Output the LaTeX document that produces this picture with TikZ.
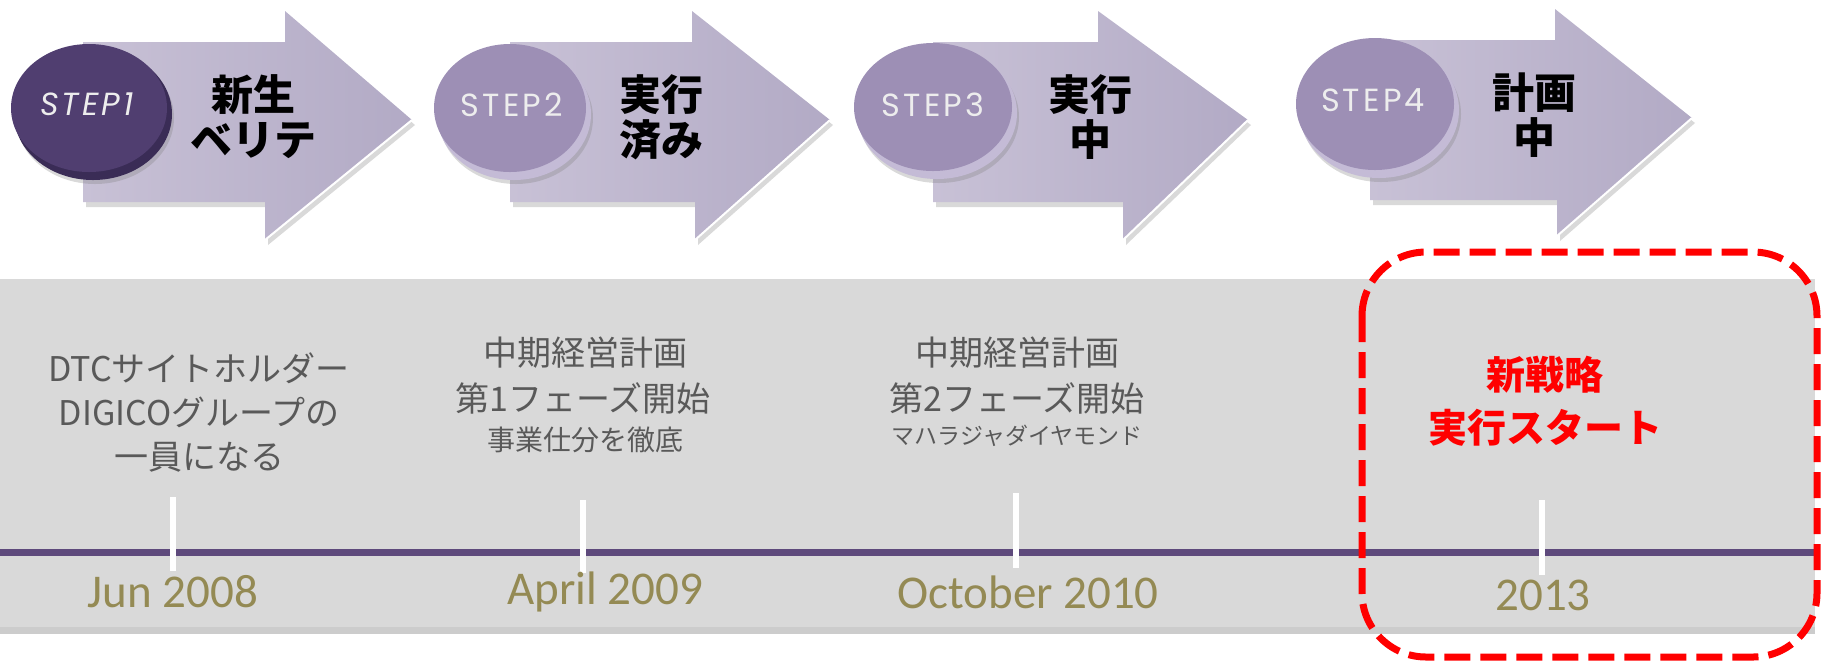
\documentclass[tikz,border=0pt]{standalone}
\usepackage{fontspec}
\newfontfamily\jpfont{Noto Sans CJK JP}
\newfontfamily\stepfont{Poppins}[LetterSpace=10]
\newfontfamily\datefont{Carlito}
\usepackage{tikz}
\usetikzlibrary{shadows}
\definecolor{bandgray}{RGB}{217,217,217}
\definecolor{lineplum}{RGB}{94,74,124}
\definecolor{dateolive}{RGB}{148,138,84}
\definecolor{evtgray}{RGB}{89,89,89}
\definecolor{arrowlight}{RGB}{200,193,214}
\definecolor{arrowdark}{RGB}{178,170,197}
\definecolor{stepdark}{RGB}{80,62,112}
\definecolor{steprimdark}{RGB}{58,44,86}
\definecolor{steplight}{RGB}{157,143,181}
\definecolor{steprimlight}{RGB}{196,187,214}

\begin{document}
\begin{tikzpicture}[x=0.5pt,y=0.5pt,yscale=-1,xscale=1,
  arrowshape/.style={left color=arrowlight,right color=arrowdark,draw=none,
    drop shadow={opacity=0.3,shadow xshift=1.5pt,shadow yshift=-2.5pt}},
  arrowedge/.style={white,line width=1pt},
  steptext/.style={font=\stepfont\fontsize{16pt}{18pt}\selectfont,text=white!93!black,inner sep=0pt},
  arrowtext/.style={font=\jpfont\bfseries\fontsize{21pt}{22.5pt}\selectfont,text=black,align=center,inner sep=0pt},
  evttext/.style={font=\jpfont\fontsize{17pt}{22pt}\selectfont,text=evtgray,align=center,inner sep=0pt},
  evtsmall/.style={font=\jpfont\fontsize{14pt}{16pt}\selectfont,text=evtgray,inner sep=0pt},
  evttiny/.style={font=\jpfont\fontsize{11.5pt}{14pt}\selectfont,text=evtgray,inner sep=0pt},
  redtext/.style={font=\jpfont\bfseries\fontsize{19.5pt}{26.5pt}\selectfont,text=red,align=center,inner sep=0pt},
  datetext/.style={font=\datefont\fontsize{23.5pt}{28pt}\selectfont,text=dateolive,inner sep=0pt},
  tickmark/.style={white,line width=3pt}]
\useasboundingbox (0,0) rectangle (1821,661);

%Shape: Band
\fill [bandgray,drop shadow={opacity=0.4,shadow xshift=0pt,shadow yshift=-3.5pt}] (0,279) rectangle (1815,627);
%Straight Lines: time line
\draw [lineplum,line width=3.5pt] (0,552) -- (1815,552);

%Shape: Arrow 1
\draw [arrowshape] (83,42) -- (285,42) -- (285,11) -- (412,120) -- (265,240) -- (265,202) -- (83,202) -- cycle;
\draw [arrowedge] (412,120) -- (265,240);
%Shape: Arrow 2
\draw [arrowshape] (510,42) -- (692,42) -- (692,11) -- (830,120) -- (695,240) -- (695,202) -- (510,202) -- cycle;
\draw [arrowedge] (830,120) -- (695,240);
%Shape: Arrow 3
\draw [arrowshape] (933,42) -- (1098,42) -- (1098,11) -- (1248,120) -- (1123,240) -- (1123,202) -- (933,202) -- cycle;
\draw [arrowedge] (1248,120) -- (1123,240);
%Shape: Arrow 4
\draw [arrowshape] (1370,40) -- (1555,40) -- (1555,9) -- (1692,118) -- (1557,236) -- (1557,200) -- (1370,200) -- cycle;
\draw [arrowedge] (1692,118) -- (1557,236);

%Shape: Disc 1
\fill [steprimdark,drop shadow={opacity=0.3,shadow xshift=1pt,shadow yshift=-2pt}] (93,114) ellipse [x radius=79,y radius=66];
\fill [stepdark] (89,108) ellipse [x radius=78,y radius=64];
%Shape: Disc 2
\fill [steprimlight,drop shadow={opacity=0.3,shadow xshift=1pt,shadow yshift=-2pt}] (514,114) ellipse [x radius=77,y radius=66];
\fill [steplight] (510,108) ellipse [x radius=76,y radius=64];
%Shape: Disc 3
\fill [steprimlight,drop shadow={opacity=0.3,shadow xshift=1pt,shadow yshift=-2pt}] (937,113) ellipse [x radius=80,y radius=66];
\fill [steplight] (933,107) ellipse [x radius=79,y radius=64];
%Shape: Disc 4
\fill [steprimlight,drop shadow={opacity=0.3,shadow xshift=1pt,shadow yshift=-2pt}] (1379,110) ellipse [x radius=80,y radius=68];
\fill [steplight] (1375,104) ellipse [x radius=79,y radius=66];

% Text Node
\draw (87,104) node (step1) [steptext] {\itshape STEP1};
% Text Node
\draw (512,105) node (step2) [steptext] {STEP2};
% Text Node
\draw (933,105) node (step3) [steptext] {STEP3};
% Text Node
\draw (1373,100) node (step4) [steptext] {STEP4};
% Text Node
\draw (253,117) node (phase1) [arrowtext] {新生\\ベリテ};
% Text Node
\draw (661,117) node (phase2) [arrowtext] {実行\\済み};
% Text Node
\draw (1090,117) node (phase3) [arrowtext] {実行\\中};
% Text Node
\draw (1534,115) node (phase4) [arrowtext] {計画\\中};

%Straight Lines: ticks
\coordinate (tick1top) at (173,497);
\coordinate (tick1bot) at (173,571);
\coordinate (tick2top) at (583,500);
\coordinate (tick2bot) at (583,573);
\coordinate (tick3top) at (1016,493);
\coordinate (tick3bot) at (1016,568);
\coordinate (tick4top) at (1542,500);
\coordinate (tick4bot) at (1542,575);
\draw [tickmark] (tick1top) -- (tick1bot);
\draw [tickmark] (tick2top) -- (tick2bot);
\draw [tickmark] (tick3top) -- (tick3bot);
\draw [tickmark] (tick4top) -- (tick4bot);

% Text Node
\draw (199,412) node (evt1) [evttext] {DTCサイトホルダー\\DIGICOグループの\\一員になる};
% Text Node
\draw (585,353) node (evt2a) [evttext] {中期経営計画};
% Text Node
\draw (583,398) node (evt2b) [evttext] {第1フェーズ開始};
% Text Node
\draw (585,440) node (evt2c) [evtsmall] {事業仕分を徹底};
% Text Node
\draw (1017,353) node (evt3a) [evttext] {中期経営計画};
% Text Node
\draw (1017,398) node (evt3b) [evttext] {第2フェーズ開始};
% Text Node
\draw (1017,436) node (evt3c) [evttiny] {マハラジャダイヤモンド};
% Text Node
\draw (1545,401) node (evt4) [redtext] {新戦略\\実行スタート};

% Text Node
\draw (173,592) node (date1) [datetext] {Jun 2008};
% Text Node
\draw (605,592) node (date2) [datetext] {April 2009};
% Text Node
\draw (1028,592) node (date3) [datetext] {October 2010};
% Text Node
\draw (1543,595) node (date4) [datetext] {2013};

%Shape: Dashed frame
\draw [red,line width=3.5pt,dash pattern=on 13pt off 5pt,rounded corners=32pt] (1362,252) rectangle (1817,657);

\end{tikzpicture}
\end{document}
